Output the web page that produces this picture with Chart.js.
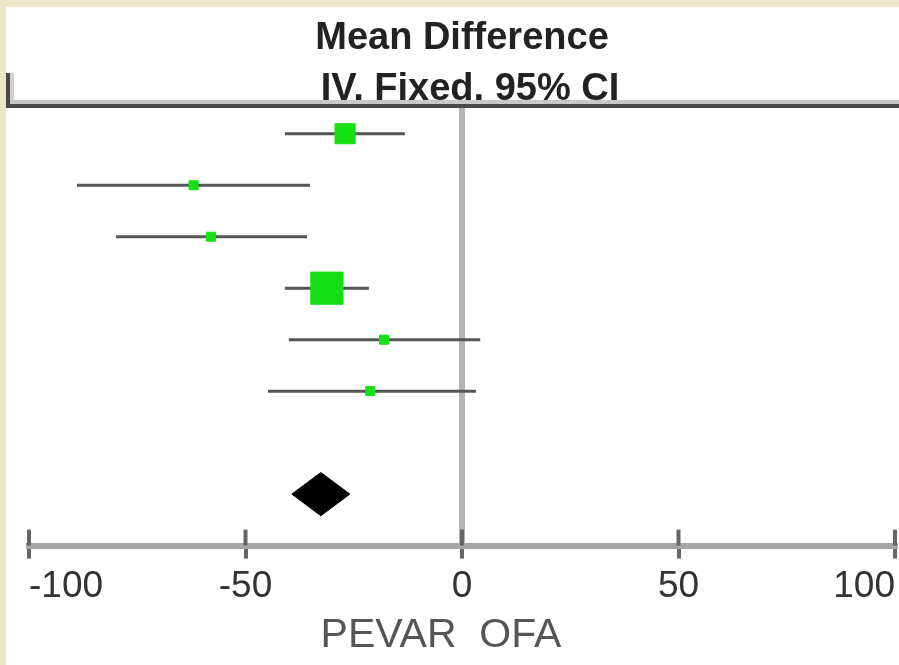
<!DOCTYPE html>
<html>
<head>
<meta charset="utf-8">
<title>Mean Difference forest plot</title>
<script src="https://cdn.jsdelivr.net/npm/chart.js@4.4.1/dist/chart.umd.min.js"></script>
<style>
  html, body { margin: 0; padding: 0; background: #eee6c8; }
  #wrap { position: absolute; left: 6px; top: 7px; width: 893px; height: 658px; background: #fff; }
</style>
</head>
<body>
<div id="wrap"><canvas id="forestChart"></canvas></div>
<script>
// study rows, top to bottom
const studyRows = [1, 2, 3, 4, 5, 6];
const meanDiff = [-27.0, -62.0, -58.0, -31.2, -18.0, -21.2];
const ciLower = [-40.9, -88.9, -79.9, -40.9, -40.0, -44.8];
const ciUpper = [-13.2, -35.1, -35.8, -21.5, 4.2, 3.2];
const weights = [22.9, 4.6, 4.6, 58.6, 4.7, 4.6];

// pooled (fixed effect) estimate
const pooledRow = 8;
const pooledMD = -32.6;
const pooledLower = -39.3;
const pooledUpper = -25.9;

const xTicks = [-100, -50, 0, 50, 100];
const headerLines = ['Mean Difference', 'IV, Fixed, 95% CI'];
const axisTitle = 'PEVAR  OFA';

const FONT = "'Liberation Sans', Arial, sans-serif";
const DIAMOND_HALF = 0.42;

function buildDatasets() {
    let sets = [];
    // CI whiskers
    studyRows.forEach(function(row, i) {
        sets.push({
            type: 'line',
            data: [{x: ciLower[i], y: row}, {x: ciUpper[i], y: row}],
            borderColor: '#555555',
            borderWidth: 3,
            pointRadius: 0,
            order: 2
        });
    });
    // weighted squares
    sets.push({
        type: 'line',
        showLine: false,
        data: studyRows.map(function(row, i) { return {x: meanDiff[i], y: row}; }),
        pointStyle: 'rect',
        pointRadius: weights.map(function(w) { return 2.97 * Math.sqrt(w); }),
        pointBackgroundColor: '#14e014',
        pointBorderColor: '#14e014',
        pointBorderWidth: 1,
        order: 1
    });
    // pooled diamond
    sets.push({
        type: 'line',
        data: [
            {x: pooledLower, y: pooledRow},
            {x: pooledMD, y: pooledRow - DIAMOND_HALF},
            {x: pooledUpper, y: pooledRow},
            {x: pooledMD, y: pooledRow + DIAMOND_HALF},
            {x: pooledLower, y: pooledRow}
        ],
        borderColor: '#000000',
        backgroundColor: '#000000',
        borderWidth: 1,
        fill: 'shape',
        tension: 0,
        pointRadius: 0,
        order: 0
    });
    return sets;
}

const forestDecor = {
    id: 'forestDecor',
    afterDraw(chart) {
        let ctx = chart.ctx;
        let xs = chart.scales.x;
        let area = chart.chartArea;
        let zeroX = xs.getPixelForValue(0);
        ctx.save();
        // header text
        ctx.fillStyle = '#222222';
        ctx.font = 'bold 38px ' + FONT;
        ctx.textAlign = 'center';
        ctx.textBaseline = 'middle';
        ctx.fillText(headerLines[0], zeroX, 32);
        ctx.fillText(headerLines[1], zeroX + 8, 83);
        // axis title
        ctx.fillStyle = '#555555';
        ctx.font = '41px ' + FONT;
        ctx.fillText(axisTitle, zeroX - 21, 629);
        // header rule
        ctx.fillStyle = '#c8c8c8';
        ctx.fillRect(0, area.top - 8, chart.width, 4);
        ctx.fillStyle = '#4a4a4a';
        ctx.fillRect(0, area.top - 4, chart.width, 4);
        ctx.fillRect(0, area.top - 35, 4, 35);
        ctx.fillStyle = '#d0d0d0';
        ctx.fillRect(4, area.top - 35, 4, 27);
        // upper half of the axis ticks
        ctx.strokeStyle = '#666666';
        ctx.lineWidth = 4;
        xTicks.forEach(function(v) {
            let px = xs.getPixelForValue(v);
            ctx.beginPath();
            ctx.moveTo(px, area.bottom - 16);
            ctx.lineTo(px, area.bottom);
            ctx.stroke();
        });
        ctx.restore();
    }
};

let forestChart = new Chart(document.getElementById('forestChart'), {
    type: 'line',
    data: { datasets: buildDatasets() },
    options: {
        responsive: true,
        maintainAspectRatio: false,
        animation: false,
        events: [],
        layout: {
            autoPadding: false,
            padding: { top: 101, left: 23, right: 4, bottom: 50 }
        },
        plugins: {
            legend: { display: false },
            tooltip: { enabled: false }
        },
        scales: {
            x: {
                type: 'linear',
                min: -100,
                max: 100,
                afterBuildTicks: function(scale) {
                    scale.ticks = xTicks.map(function(v) { return {value: v}; });
                },
                afterFit: function(scale) {
                    // end labels are aligned inward, no side padding needed
                    scale.paddingLeft = 0;
                    scale.paddingRight = 0;
                },
                grid: {
                    drawOnChartArea: true,
                    color: function(c) { return c.tick && c.tick.value === 0 ? '#b4b4b4' : 'rgba(0,0,0,0)'; },
                    lineWidth: 6,
                    drawTicks: true,
                    tickLength: 13,
                    tickColor: '#666666',
                    tickWidth: 4
                },
                border: { color: '#a5a5a5', width: 6 },
                ticks: {
                    align: 'inner',
                    padding: 6,
                    color: '#333333',
                    font: { family: FONT, size: 37 }
                }
            },
            y: {
                type: 'linear',
                display: false,
                reverse: true,
                min: 0.5,
                max: 9
            }
        }
    },
    plugins: [forestDecor]
});
</script>
</body>
</html>
